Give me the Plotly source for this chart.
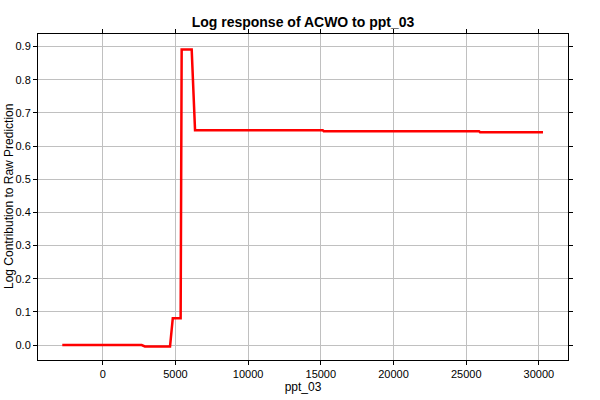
import plotly.graph_objects as go

x_vals = [-2780, 2680, 2900, 4630, 4820, 5360, 5430, 6120, 6350, 15130, 15200, 25880, 25950, 30280]
y_vals = [0.0, 0.0, -0.004, -0.004, 0.081, 0.081, 0.891, 0.891, 0.648, 0.648, 0.645, 0.645, 0.642, 0.642]

fig = go.Figure()
fig.add_trace(go.Scatter(x=x_vals, y=y_vals, mode="lines",
                         line=dict(color="#ff0000", width=2.5), showlegend=False))

FONT = "Liberation Sans, Arial"
axis_common = dict(showgrid=True, gridcolor="#c0c0c0", gridwidth=1,
                   showline=True, linecolor="black", linewidth=1, mirror="ticks",
                   ticks="outside", ticklen=4, tickcolor="black", zeroline=False,
                   automargin=False,
                   tickfont=dict(family=FONT, size=11, color="black"))

fig.update_layout(
    width=600, height=400,
    margin=dict(l=38, r=32, t=34, b=40),
    paper_bgcolor="white", plot_bgcolor="white",
    title=dict(text="<b>Log response of ACWO to ppt_03</b>", x=0.505, xanchor="center",
               y=0.945, yanchor="middle",
               font=dict(family=FONT, size=14, color="black")),
    xaxis=dict(range=[-4450, 32000], dtick=5000, tickformat="d",
               title=dict(text="ppt_03", standoff=2,
                          font=dict(family=FONT, size=12, color="black")),
               **axis_common),
    yaxis=dict(range=[-0.045, 0.938], dtick=0.1, tickformat=".1f",
               **axis_common),
    annotations=[dict(text="Log Contribution to Raw Prediction", textangle=-90,
                      xref="paper", yref="paper", x=(9 - 38) / 530, y=0.5,
                      xanchor="center", yanchor="middle", showarrow=False,
                      font=dict(family=FONT, size=12, color="black"))],
)

fig.write_html("out.html",
               config={"displayModeBar": False},
               post_script="document.body.style.margin='0px';document.body.style.overflow='hidden';")
